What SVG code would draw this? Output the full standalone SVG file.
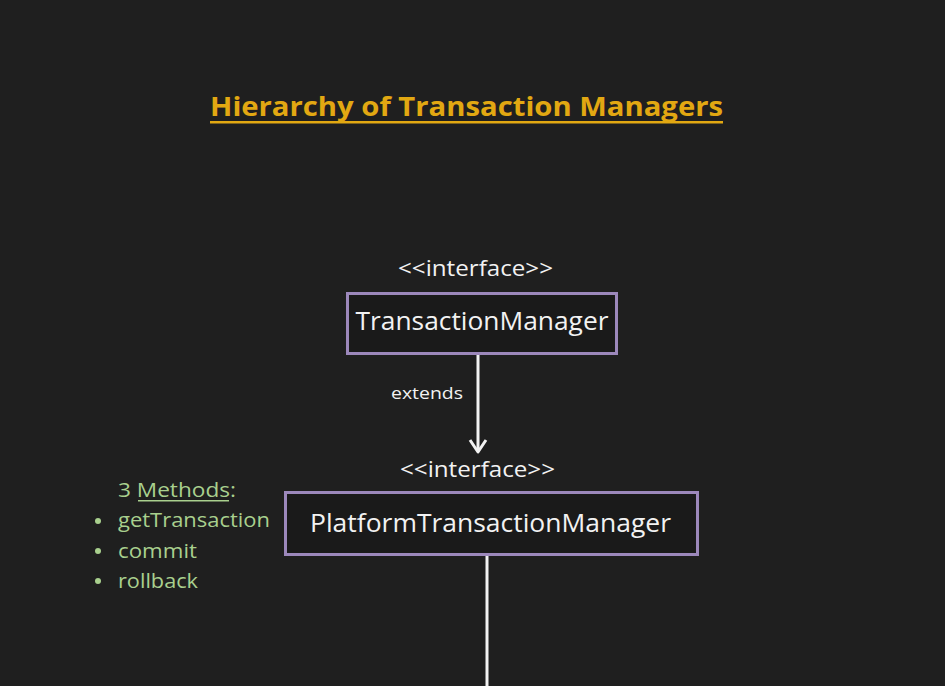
<svg xmlns="http://www.w3.org/2000/svg" width="945" height="686" viewBox="0 0 945 686">
<style>
text{font-family:"Open Sans","Noto Sans",sans-serif}
.box{fill:#1a1a1a;stroke:#9c88bb;stroke-width:3}
.w{fill:#f2f2f2}
.g{fill:#a9d08e}
.conn{stroke:#f2f2f2;stroke-width:3;fill:none}
</style>
<rect width="945" height="686" fill="#1f1f1f"/>
<g id="title">
<text x="210" y="116" font-size="27" font-weight="bold" fill="#e2a812" textLength="513" lengthAdjust="spacingAndGlyphs">Hierarchy of Transaction Managers</text>
<rect x="210" y="121" width="513" height="2.5" fill="#e2a812"/>
</g>
<g id="transactionManager">
<text class="w" x="475.5" y="276" font-size="21" text-anchor="middle" textLength="155" lengthAdjust="spacingAndGlyphs">&lt;&lt;interface&gt;&gt;</text>
<rect class="box" x="347.5" y="293.5" width="269" height="60"/>
<text class="w" x="482" y="330" font-size="25" text-anchor="middle" textLength="253" lengthAdjust="spacingAndGlyphs">TransactionManager</text>
</g>
<g id="platformTransactionManager">
<text class="w" x="477.5" y="477" font-size="21" text-anchor="middle" textLength="155" lengthAdjust="spacingAndGlyphs">&lt;&lt;interface&gt;&gt;</text>
<rect class="box" x="285.5" y="492.5" width="412" height="62"/>
<text class="w" x="490.5" y="532" font-size="25" text-anchor="middle" textLength="361" lengthAdjust="spacingAndGlyphs">PlatformTransactionManager</text>
</g>
<g id="methods">
<text class="g" x="118" y="497" font-size="20" textLength="118" lengthAdjust="spacingAndGlyphs">3 Methods:</text>
<rect x="138" y="500" width="91" height="1.5" fill="#a9d08e"/>
<circle cx="98" cy="521" r="3" fill="#a9d08e"/>
<text class="g" x="118" y="527" font-size="20" textLength="152" lengthAdjust="spacingAndGlyphs">getTransaction</text>
<circle cx="98" cy="551" r="3" fill="#a9d08e"/>
<text class="g" x="118" y="558" font-size="20" textLength="79" lengthAdjust="spacingAndGlyphs">commit</text>
<circle cx="98" cy="581" r="3" fill="#a9d08e"/>
<text class="g" x="118" y="588" font-size="20" textLength="80" lengthAdjust="spacingAndGlyphs">rollback</text>
</g>
<g id="connectors">
<line class="conn" x1="478" y1="355" x2="478" y2="451"/>
<polyline class="conn" points="470,440 478,452 486,440" stroke-linejoin="round"/>
<text class="w" x="391" y="399" font-size="17" textLength="72" lengthAdjust="spacingAndGlyphs">extends</text>
<line class="conn" x1="487" y1="556" x2="487" y2="686"/>
</g>
</svg>
